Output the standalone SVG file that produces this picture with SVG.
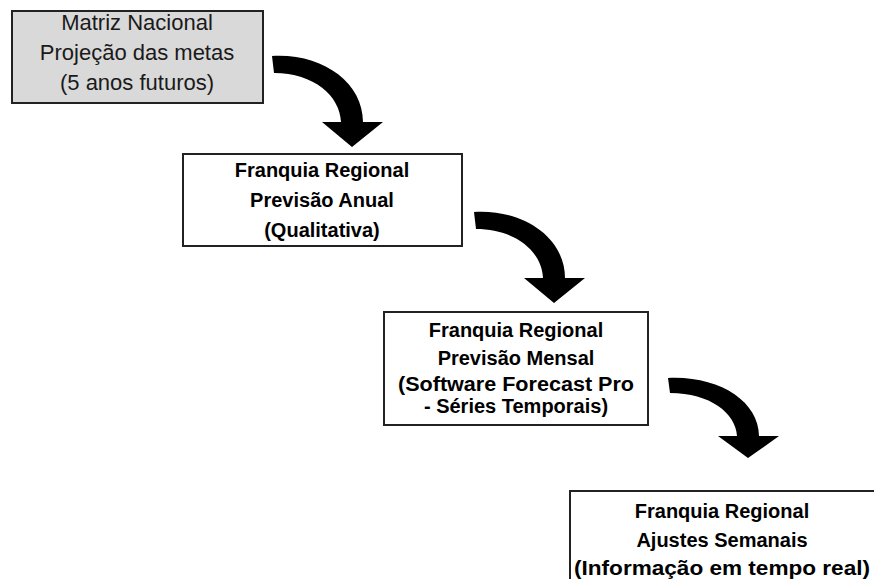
<svg xmlns="http://www.w3.org/2000/svg" width="874" height="579" viewBox="0 0 874 579">
<defs>
<style>
.box{fill:#ffffff;stroke:#222222;stroke-width:2}
.gray{fill:#d9d9d9}
.t1{font-family:"Liberation Sans",Arial,sans-serif;font-size:22px;fill:#1a1a1a;text-anchor:middle}
.t2{font-family:"Liberation Sans",Arial,sans-serif;font-size:20px;font-weight:bold;fill:#000000;text-anchor:middle}
.arrow{fill:#000000}
</style>
<path id="curved" d="M0,0 C50,-3 91,26 91,66 L111,66 L80,91 L50,66 L69,66 C68,40 42,17 2,17 Z"/>
</defs>
<rect width="874" height="579" fill="#ffffff"/>
<g id="connectors">
<use href="#curved" class="arrow" transform="translate(272,56)"/>
<use href="#curved" class="arrow" transform="translate(474,212)"/>
<use href="#curved" class="arrow" transform="translate(668,378) scale(1,0.88)"/>
</g>
<g id="node1">
<rect class="box gray" x="12" y="11" width="251" height="92"/>
<text class="t1" x="137" y="30">Matriz Nacional</text>
<text class="t1" x="137" y="60">Projeção das metas</text>
<text class="t1" x="137" y="90">(5 anos futuros)</text>
</g>
<g id="node2">
<rect class="box" x="183" y="154" width="279" height="92"/>
<text class="t2" x="322" y="177">Franquia Regional</text>
<text class="t2" x="322" y="207">Previsão Anual</text>
<text class="t2" x="322" y="237">(Qualitativa)</text>
</g>
<g id="node3">
<rect class="box" x="384" y="312" width="264" height="113"/>
<text class="t2" x="516" y="337">Franquia Regional</text>
<text class="t2" x="516" y="365">Previsão Mensal</text>
<text class="t2" x="516" y="391" textLength="236" lengthAdjust="spacingAndGlyphs">(Software Forecast Pro</text>
<text class="t2" x="516" y="413">- Séries Temporais)</text>
</g>
<g id="node4">
<rect class="box" x="570" y="491" width="310" height="100"/>
<text class="t2" x="722" y="518">Franquia Regional</text>
<text class="t2" x="722" y="547">Ajustes Semanais</text>
<text class="t2" x="722" y="575" textLength="296" lengthAdjust="spacingAndGlyphs">(Informação em tempo real)</text>
</g>
</svg>
